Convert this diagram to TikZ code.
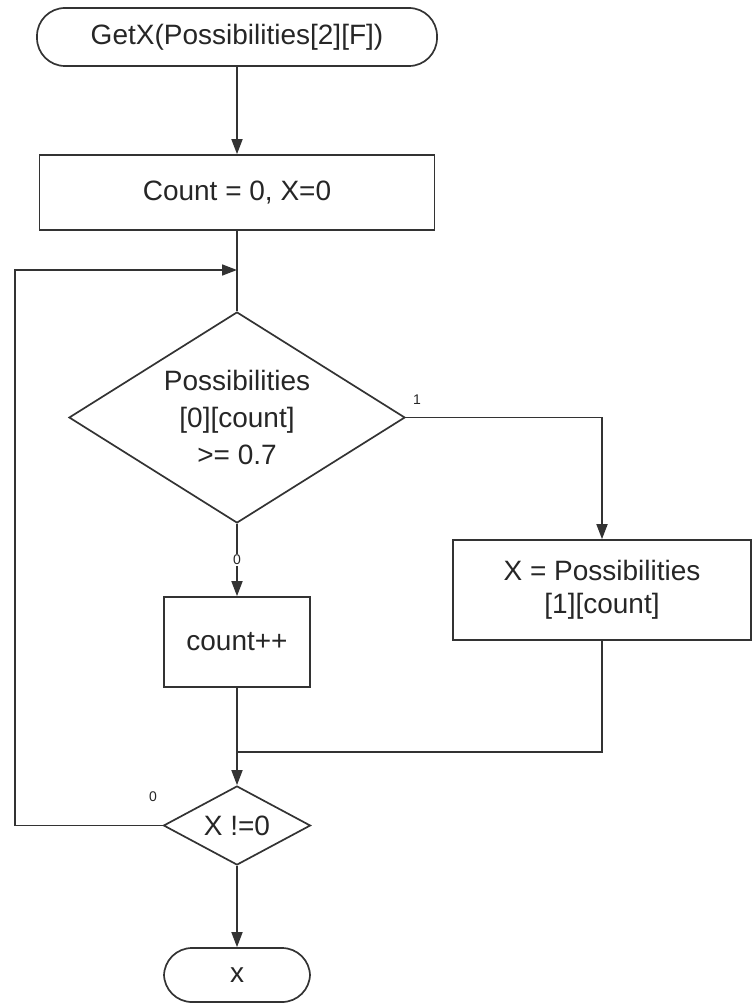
\documentclass[tikz,border=0pt]{standalone}
\usepackage{fontspec}
\setmainfont{Liberation Sans}
\usetikzlibrary{shapes.geometric,arrows.meta}
\begin{document}
\begin{tikzpicture}[x=1pt,y=-1pt,
  every node/.style={font=\fontsize{28}{37}\selectfont, text=black!85},
  line/.style={draw=black!80, line width=1.7pt},
  flow/.style={line, -{Triangle[length=15pt,width=11pt]}},
  terminal/.style={line, rectangle, rounded corners=28pt, inner sep=0pt},
  proc/.style={line, rectangle, inner sep=0pt, align=center},
  decision/.style={line, diamond, inner sep=0pt},
  caption/.style={align=center, inner sep=0pt},
  tag/.style={font=\fontsize{14}{16}\selectfont, inner sep=1pt}]
\useasboundingbox (0,0) rectangle (753,1003);
% start and end terminals
\node[terminal, minimum width=400pt, minimum height=58pt] (start) at (237,37) {GetX(Possibilities[2][F])};
\node[terminal, minimum width=146pt, minimum height=54pt] (stop) at (237,975) {x};
% processing steps
\node[proc, minimum width=395pt, minimum height=75pt] (init) at (237,192.5) {Count = 0, X=0};
\node[proc, minimum width=146pt, minimum height=90pt] (inc) at (237,642) {count++};
\node[proc, minimum width=298pt, minimum height=100pt] (setx) at (602,590) {X = Possibilities\\[-4pt]{[1][count]}};
% decisions (outline drawn first, wording set on top)
\node[decision, minimum width=336pt, minimum height=211pt] (test) at (237,417.5) {};
\node[caption] (testtxt) at (237,417) {Possibilities\\{[0][count]}\\{>= 0.7}};
\node[decision, minimum width=147pt, minimum height=79pt] (done) at (237,825.5) {};
\node[caption] (donetxt) at (237,826) {X !=0};
% junction points
\coordinate (loopin) at (237,270);
\coordinate (merge) at (237,752);
% connectors
\draw[flow] (start.south) -- (init.north);
\draw[line] (init.south) -- (test.north);
\draw[flow] (test.east) -| (setx.north);
\node[tag] (yes) at (417,400) {1};
\draw[flow] (test.south) -- (inc.north) node[tag, pos=0.5, fill=white] (no) {0};
\draw[line] (setx.south) |- (merge);
\draw[flow] (inc.south) -- (done.north);
\draw[flow] (done.south) -- (stop.north);
\draw[flow] (done.west) -- (15,825.5) |- (loopin);
\node[tag] (again) at (153,797) {0};
\end{tikzpicture}
\end{document}
